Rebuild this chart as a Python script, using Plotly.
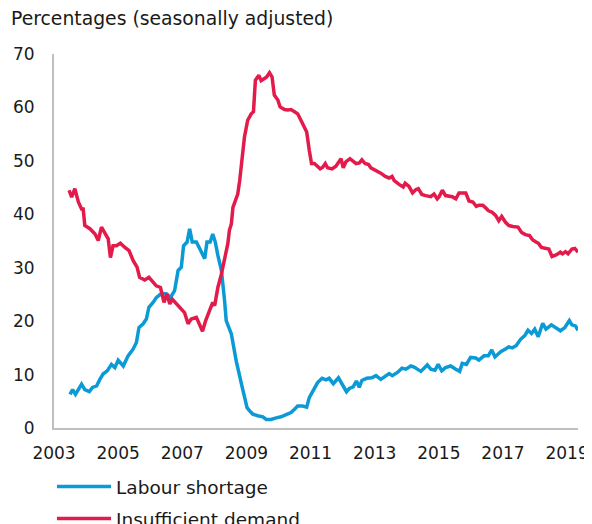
import plotly.graph_objects as go

# Labour shortage (blue)
labour_x = [2003.50, 2003.58, 2003.67, 2003.76, 2003.86, 2003.96, 2004.10, 2004.20, 2004.33, 2004.43,
            2004.53, 2004.66, 2004.79, 2004.90, 2005.00, 2005.16, 2005.31, 2005.47, 2005.57, 2005.65,
            2005.78, 2005.88, 2005.96, 2006.09, 2006.19, 2006.35, 2006.51, 2006.63, 2006.76, 2006.87,
            2006.97, 2007.04, 2007.15, 2007.23, 2007.31, 2007.44, 2007.54, 2007.63, 2007.70, 2007.77,
            2007.87, 2007.95, 2008.03, 2008.11, 2008.22, 2008.32, 2008.37, 2008.53, 2008.68, 2008.87,
            2009.02, 2009.10, 2009.20, 2009.35, 2009.51, 2009.62, 2009.77, 2009.93, 2010.08, 2010.24,
            2010.39, 2010.50, 2010.60, 2010.75, 2010.88, 2010.96, 2011.07, 2011.22, 2011.36, 2011.48,
            2011.58, 2011.71, 2011.87, 2012.00, 2012.12, 2012.21, 2012.33, 2012.43, 2012.52, 2012.60,
            2012.75, 2012.91, 2013.04, 2013.19, 2013.33, 2013.45, 2013.55, 2013.71, 2013.85, 2013.97,
            2014.13, 2014.23, 2014.44, 2014.54, 2014.64, 2014.75, 2014.88, 2014.98, 2015.09, 2015.21,
            2015.37, 2015.53, 2015.65, 2015.73, 2015.86, 2015.99, 2016.15, 2016.25, 2016.41, 2016.54,
            2016.65, 2016.75, 2016.93, 2017.08, 2017.18, 2017.29, 2017.41, 2017.55, 2017.68, 2017.78,
            2017.89, 2017.99, 2018.10, 2018.24, 2018.34, 2018.51, 2018.66, 2018.79, 2018.93, 2019.07,
            2019.15, 2019.26, 2019.34]
labour_y = [6.3, 7.2, 6.3, 7.2, 8.2, 7.2, 6.8, 7.6, 7.9, 9.1,
            10.1, 10.7, 11.9, 11.3, 12.7, 11.6, 13.5, 14.8, 16.0, 18.8,
            19.5, 20.4, 22.6, 23.5, 24.4, 25.2, 25.1, 24.4, 25.7, 29.5,
            30.1, 34.1, 34.8, 37.3, 34.8, 34.8, 33.5, 32.6, 31.7, 34.8,
            34.8, 36.3, 34.8, 32.3, 29.5, 23.8, 20.1, 17.6, 12.6, 7.6,
            3.8, 3.2, 2.6, 2.3, 2.1, 1.6, 1.6, 1.9, 2.1, 2.5,
            2.9, 3.5, 4.1, 4.1, 3.9, 5.7, 6.9, 8.5, 9.3, 9.0,
            9.3, 8.3, 9.4, 7.9, 6.8, 7.4, 7.7, 8.8, 7.6, 8.9,
            9.3, 9.4, 9.8, 9.1, 9.8, 10.2, 9.8, 10.4, 11.2, 11.0,
            11.6, 11.4, 10.6, 11.2, 11.8, 11.0, 10.8, 11.9, 10.7, 11.3,
            11.6, 11.0, 10.6, 12.1, 11.9, 13.2, 13.1, 12.7, 13.5, 13.5,
            14.6, 13.3, 14.3, 14.8, 15.2, 15.0, 15.4, 16.6, 17.3, 18.3,
            17.7, 18.5, 17.1, 19.6, 18.5, 19.3, 18.8, 18.2, 18.8, 20.1,
            19.3, 19.1, 18.3]

# Insufficient demand (red)
demand_x = [2003.47, 2003.55, 2003.65, 2003.76, 2003.86, 2003.91, 2003.96, 2004.12, 2004.28, 2004.38,
            2004.48, 2004.59, 2004.69, 2004.76, 2004.84, 2004.95, 2005.07, 2005.21, 2005.34, 2005.47,
            2005.59, 2005.67, 2005.83, 2005.96, 2006.09, 2006.19, 2006.32, 2006.43, 2006.52, 2006.61,
            2006.69, 2006.82, 2006.94, 2007.07, 2007.18, 2007.28, 2007.44, 2007.52, 2007.63, 2007.73,
            2007.85, 2007.95, 2008.01, 2008.11, 2008.22, 2008.32, 2008.42, 2008.47, 2008.53, 2008.58,
            2008.68, 2008.73, 2008.79, 2008.87, 2008.94, 2009.04, 2009.15, 2009.22, 2009.28, 2009.39,
            2009.46, 2009.56, 2009.63, 2009.72, 2009.80, 2009.87, 2009.98, 2010.05, 2010.19, 2010.29,
            2010.39, 2010.50, 2010.60, 2010.70, 2010.81, 2010.88, 2010.96, 2011.03, 2011.12, 2011.22,
            2011.30, 2011.38, 2011.46, 2011.53, 2011.67, 2011.79, 2011.95, 2012.02, 2012.10, 2012.23,
            2012.33, 2012.42, 2012.52, 2012.60, 2012.70, 2012.81, 2012.88, 2013.04, 2013.19, 2013.33,
            2013.45, 2013.54, 2013.61, 2013.76, 2013.89, 2013.95, 2014.07, 2014.18, 2014.28, 2014.36,
            2014.47, 2014.59, 2014.75, 2014.85, 2014.95, 2015.01, 2015.11, 2015.21, 2015.34, 2015.42,
            2015.53, 2015.63, 2015.84, 2015.94, 2016.06, 2016.17, 2016.25, 2016.37, 2016.46, 2016.54,
            2016.66, 2016.77, 2016.87, 2016.96, 2017.08, 2017.18, 2017.31, 2017.47, 2017.58, 2017.70,
            2017.83, 2017.93, 2018.03, 2018.10, 2018.20, 2018.33, 2018.43, 2018.53, 2018.66, 2018.79,
            2018.86, 2018.95, 2019.03, 2019.15, 2019.24, 2019.34]
demand_y = [44.5, 43.2, 44.8, 42.3, 41.0, 41.0, 37.9, 37.3, 36.3, 35.1,
            37.6, 36.3, 35.4, 31.9, 34.1, 34.1, 34.6, 33.8, 33.2, 31.3,
            30.1, 28.2, 27.7, 28.2, 27.3, 26.6, 26.3, 23.5, 25.1, 23.2,
            24.1, 23.2, 22.3, 21.6, 19.5, 20.4, 20.7, 19.5, 18.1, 20.1,
            22.0, 23.5, 22.9, 26.3, 28.8, 32.0, 34.5, 37.0, 38.2, 41.3,
            43.2, 43.8, 46.3, 50.1, 54.5, 57.6, 58.8, 59.2, 65.1, 66.0,
            65.0, 65.4, 65.7, 66.5, 65.7, 62.3, 61.4, 60.1, 59.6, 59.5,
            59.6, 59.2, 58.8, 57.6, 56.0, 55.4, 52.0, 49.5, 49.5, 49.0,
            48.5, 48.8, 49.5, 48.7, 48.5, 49.0, 50.4, 48.7, 49.8, 50.4,
            50.0, 49.5, 49.6, 50.2, 49.5, 49.3, 48.7, 48.2, 47.7, 47.1,
            46.8, 47.1, 46.3, 45.6, 45.1, 45.8, 45.2, 44.0, 44.6, 44.8,
            43.7, 43.5, 43.3, 43.8, 42.9, 43.3, 44.5, 43.5, 43.3, 43.3,
            42.9, 44.0, 44.0, 42.5, 42.3, 41.5, 41.7, 41.7, 41.2, 40.7,
            40.4, 39.8, 38.8, 39.6, 38.5, 37.9, 37.7, 37.6, 36.6, 36.2,
            36.0, 35.2, 34.8, 34.6, 33.8, 33.7, 33.5, 32.1, 32.4, 32.9,
            32.6, 33.0, 32.6, 33.5, 33.6, 32.9]

x_ticks = [2003, 2005, 2007, 2009, 2011, 2013, 2015, 2017, 2019]
y_ticks = [0, 10, 20, 30, 40, 50, 60, 70]

BLUE = "#0a9ad6"
RED = "#e31b4b"
FONT = "DejaVu Sans"
TXT = "#1a1a1a"

# The page body adds an 8px offset, so the figure is sized to the visible area
W, H = 584, 516
# plot area in figure pixels
L, R, T, B = 46, 570, 46, 420
PW, PH = R - L, B - T


def px_x(px):
    return (px - L) / PW


def px_y(py):
    return (B - py) / PH


fig = go.Figure()
fig.add_trace(go.Scatter(x=labour_x, y=labour_y, mode="lines", name="Labour shortage",
                         legendgroup="a", line=dict(color=BLUE, width=3.5)))
fig.add_trace(go.Scatter(x=demand_x, y=demand_y, mode="lines", name="Insufficient demand",
                         legendgroup="b", line=dict(color=RED, width=3.5)))

fig.update_layout(
    width=W, height=H,
    margin=dict(l=L, r=W - R, t=T, b=H - B, autoexpand=False),
    paper_bgcolor="white", plot_bgcolor="white",
    font=dict(family=FONT, size=17, color=TXT),
    showlegend=True,
    legend=dict(orientation="v", x=px_x(44), xanchor="left", y=px_y(460), yanchor="top",
                font=dict(family=FONT, size=18.5, color=TXT), itemwidth=54,
                bgcolor="rgba(0,0,0,0)", tracegroupgap=5, traceorder="grouped"),
    annotations=[dict(text="Percentages (seasonally adjusted)", xref="paper", yref="paper",
                      x=px_x(1), y=px_y(10), xanchor="left", yanchor="middle",
                      showarrow=False, font=dict(family=FONT, size=18.8, color=TXT))],
)
fig.update_xaxes(range=[2003, 2019.34], tickvals=x_ticks, ticktext=[str(v) for v in x_ticks],
                 showgrid=False, zeroline=False, showline=True, linecolor="#bfbfbf", linewidth=2,
                 ticks="", ticklabelstandoff=9, tickangle=0, tickfont=dict(size=17))
fig.update_yaxes(range=[0, 70], tickvals=y_ticks, showgrid=False, zeroline=False,
                 showline=True, linecolor="#bfbfbf", linewidth=2, ticks="",
                 ticklabelstandoff=14, tickfont=dict(size=17))

fig.write_html("out.html")
